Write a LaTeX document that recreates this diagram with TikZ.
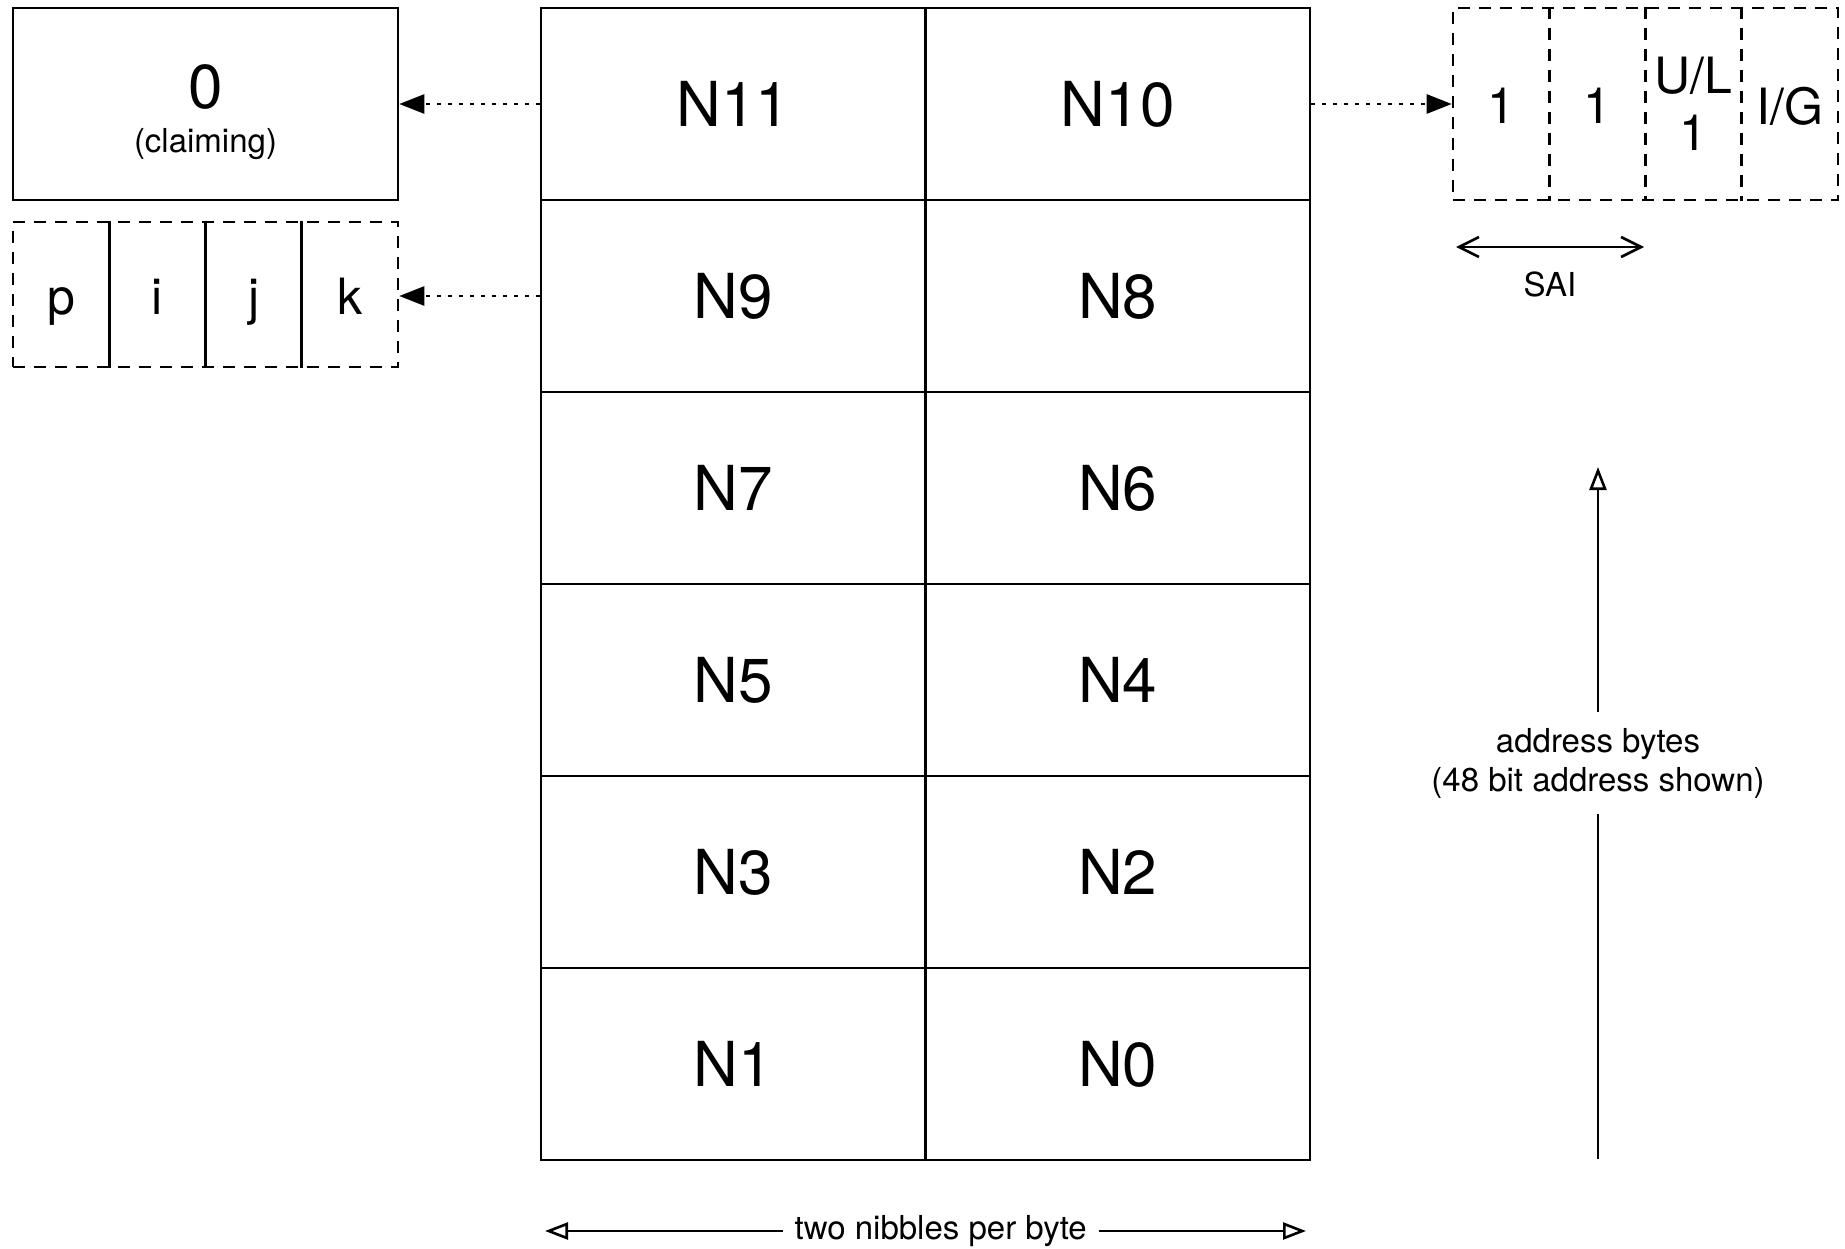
\documentclass[tikz,border=0pt]{standalone}
\usepackage{fontspec}
\setmainfont{TeX Gyre Heros}
\usetikzlibrary{arrows.meta,positioning}

\newcommand{\bigsz}{\fontsize{62}{74}\selectfont}
\newcommand{\midsz}{\fontsize{50}{57}\selectfont}
\newcommand{\smallsz}{\fontsize{33}{39}\selectfont}

\begin{document}
\begin{tikzpicture}[x=1pt, y=-1pt, line width=2.6pt,
    cell/.style={draw, minimum width=384.5pt, minimum height=192pt, inner sep=0pt, font=\bigsz},
    dashbox/.style={draw, dash pattern=on 12pt off 9pt, inner sep=0pt},
    ptr/.style={dash pattern=on 4pt off 7pt, -{Triangle[length=25pt,width=19pt]}},
    saispan/.style={{Straight Barb[length=20pt,width=20pt]}-{Straight Barb[length=20pt,width=20pt]}},
    openarr/.style={-{Triangle[open,length=23pt,width=17pt]}},
    botharr/.style={{Triangle[open,length=23pt,width=17pt]}-{Triangle[open,length=23pt,width=17pt]}}]
        \useasboundingbox (0,0) rectangle (1845,1249);

        % Bytes of the address
        \node[cell] (n11) at (733.25,104) {N11};
        \node[cell] (n10) at (1117.75,104) {N10};
        \node[cell] (n9) at (733.25,296) {N9};
        \node[cell] (n8) at (1117.75,296) {N8};
        \node[cell] (n7) at (733.25,488) {N7};
        \node[cell] (n6) at (1117.75,488) {N6};
        \node[cell] (n5) at (733.25,680) {N5};
        \node[cell] (n4) at (1117.75,680) {N4};
        \node[cell] (n3) at (733.25,872) {N3};
        \node[cell] (n2) at (1117.75,872) {N2};
        \node[cell] (n1) at (733.25,1064) {N1};
        \node[cell] (n0) at (1117.75,1064) {N0};

        % Claiming nibble
        \node[draw, minimum width=385pt, minimum height=192pt, inner sep=0pt] (claim) at (205.5,104) {};
        \node[font=\bigsz, anchor=base] (zero) at (205.5,109) {0};
        \node[font=\smallsz, anchor=base] (claimtxt) at (205.5,153) {(claiming)};

        % p i j k
        \node[dashbox, minimum width=385pt, minimum height=145pt] (pijk) at (205.5,294.5) {};
        \draw ([xshift=-96.25pt]pijk.north) -- ([xshift=-96.25pt]pijk.south);
        \draw (pijk.north) -- (pijk.south);
        \draw ([xshift=96.25pt]pijk.north) -- ([xshift=96.25pt]pijk.south);
        \node[font=\midsz, anchor=base] (bp) at (61.1,315) {p};
        \node[font=\midsz, anchor=base] (bi) at (157.4,315) {i};
        \node[font=\midsz, anchor=base] (bj) at (253.6,315) {j};
        \node[font=\midsz, anchor=base] (bk) at (349.9,315) {k};

        % Low bits of the first byte
        \node[dashbox, minimum width=385pt, minimum height=192pt] (bits) at (1645.5,104) {};
        \draw[dash pattern=on 12pt off 9pt] ([xshift=-96.25pt]bits.north) -- ([xshift=-96.25pt]bits.south);
        \draw[dash pattern=on 12pt off 9pt] (bits.north) -- (bits.south);
        \draw[dash pattern=on 12pt off 9pt] ([xshift=96.25pt]bits.north) -- ([xshift=96.25pt]bits.south);
        \node[font=\midsz] (bone) at (1501.1,106) {1};
        \node[font=\midsz] (btwo) at (1597.4,106) {1};
        \node[font=\midsz, align=center] (bul) at (1693.6,104) {U/L\\1};
        \node[font=\midsz] (big) at (1789.9,106) {I/G};

        % Dotted pointers
        \draw[ptr] (n11.west) -- (claim.east);
        \draw[ptr] (n9.west) -- (n9.west -| pijk.east);
        \draw[ptr] (n10.east) -- (bits.west);

        % SAI span
        \coordinate (saileft) at (1456,247);
        \coordinate (sairight) at (1644,247);
        \draw[saispan] (saileft) -- (sairight);
        \node[font=\smallsz] (saitxt) at (1550,284) {SAI};

        % Address bytes
        \coordinate (abot) at (1598,1159);
        \coordinate (atop) at (1598,467);
        \draw[openarr] (abot) -- (atop)
            node[pos=0.5716, fill=white, align=center, font=\smallsz, inner xsep=4pt, inner ysep=16pt] (addr) {address bytes\\(48 bit address shown)};

        % Nibbles
        \coordinate (nleft) at (545,1231);
        \coordinate (nright) at (1306,1231);
        \draw[botharr] (nleft) -- (nright)
            node[pos=0.52, fill=white, font=\smallsz, inner xsep=12pt, inner ysep=2pt] (nib) {two nibbles per byte};
\end{tikzpicture}
\end{document}
